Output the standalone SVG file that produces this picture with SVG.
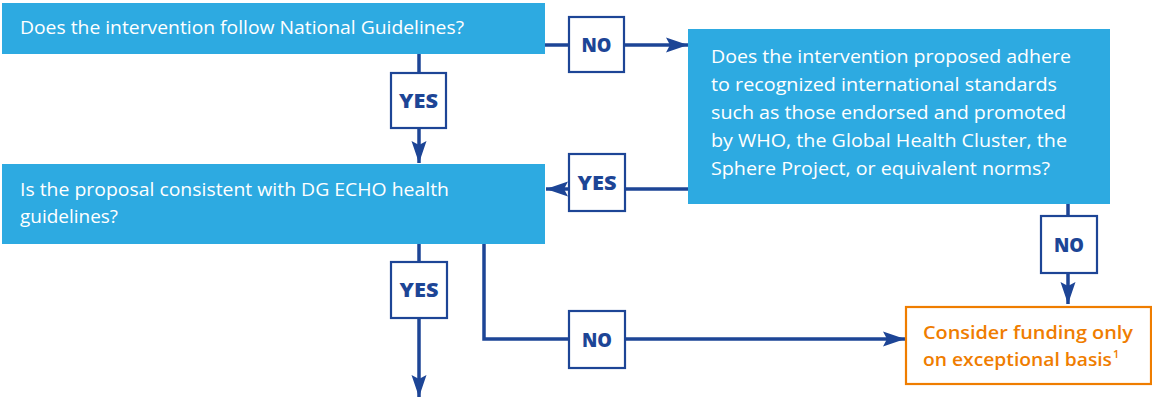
<svg xmlns="http://www.w3.org/2000/svg" width="1152" height="399" viewBox="0 0 1152 399">
  <defs>
    <marker id="arrow" markerUnits="userSpaceOnUse" markerWidth="24" markerHeight="16" refX="22" refY="8" orient="auto">
      <path d="M0,0.5 L22,8 L0,15.5 L4,8 Z" fill="#1D4596"/>
    </marker>
    <style>
      .q { fill: #2DAAE1; }
      .qt { fill: #FFFFFF; font-family: "Open Sans", "DejaVu Sans", sans-serif; font-size: 18px; }
      .lbl { fill: #FFFFFF; stroke: #1D4596; stroke-width: 2.2; }
      .lt { fill: #1D4596; font-family: "Open Sans", "DejaVu Sans", sans-serif; font-weight: 800; font-size: 20px; text-anchor: middle; }
      .conn { fill: none; stroke: #1D4596; stroke-width: 3.5; marker-end: url(#arrow); }
      .res { fill: #FFFFFF; stroke: #EF7D00; stroke-width: 2.2; }
      .rt { fill: #EF7D00; font-family: "Open Sans", "DejaVu Sans", sans-serif; font-weight: 600; font-size: 18.5px; }
    </style>
  </defs>

  <!-- connectors -->
  <g id="connectors">
    <path class="conn" d="M545,45 H688"/>
    <path class="conn" d="M419,54 V163"/>
    <path class="conn" d="M688,189 H546"/>
    <path class="conn" d="M419,244 V397"/>
    <path class="conn" d="M484,244 V339 H905"/>
    <path class="conn" d="M1068,204 V304"/>
  </g>

  <!-- question nodes -->
  <g id="q-national">
    <rect class="q" x="2" y="3" width="543" height="51"/>
    <text class="qt" x="20" y="34" textLength="444" lengthAdjust="spacingAndGlyphs">Does the intervention follow National Guidelines?</text>
  </g>

  <g id="q-echo">
    <rect class="q" x="2" y="164" width="543" height="80"/>
    <text class="qt" x="20" y="196" textLength="429" lengthAdjust="spacingAndGlyphs">Is the proposal consistent with DG ECHO health</text>
    <text class="qt" x="20" y="223" textLength="98" lengthAdjust="spacingAndGlyphs">guidelines?</text>
  </g>

  <g id="q-international">
    <rect class="q" x="688" y="29" width="422" height="175"/>
    <text class="qt" x="711" y="63" textLength="360" lengthAdjust="spacingAndGlyphs">Does the intervention proposed adhere</text>
    <text class="qt" x="711" y="91" textLength="346" lengthAdjust="spacingAndGlyphs">to recognized international standards</text>
    <text class="qt" x="711" y="119" textLength="355" lengthAdjust="spacingAndGlyphs">such as those endorsed and promoted</text>
    <text class="qt" x="711" y="147" textLength="356" lengthAdjust="spacingAndGlyphs">by WHO, the Global Health Cluster, the</text>
    <text class="qt" x="711" y="175" textLength="339" lengthAdjust="spacingAndGlyphs">Sphere Project, or equivalent norms?</text>
  </g>

  <!-- result node -->
  <g id="r-exceptional">
    <rect class="res" x="906" y="307" width="245" height="77"/>
    <text class="rt" x="923" y="339" textLength="210" lengthAdjust="spacingAndGlyphs">Consider funding only</text>
    <text class="rt" x="923" y="366"><tspan textLength="189" lengthAdjust="spacingAndGlyphs">on exceptional basis</tspan><tspan font-size="11" dx="1" dy="-8">1</tspan></text>
  </g>

  <!-- branch labels -->
  <g id="l-no-1">
    <rect class="lbl" x="569" y="17" width="55" height="55"/>
    <text class="lt" x="596.5" y="52" textLength="30" lengthAdjust="spacingAndGlyphs">NO</text>
  </g>
  <g id="l-yes-1">
    <rect class="lbl" x="391" y="73" width="55" height="55"/>
    <text class="lt" x="418.5" y="108" textLength="39" lengthAdjust="spacingAndGlyphs">YES</text>
  </g>
  <g id="l-yes-2">
    <rect class="lbl" x="569" y="154" width="56" height="57"/>
    <text class="lt" x="597" y="190" textLength="39" lengthAdjust="spacingAndGlyphs">YES</text>
  </g>
  <g id="l-yes-3">
    <rect class="lbl" x="391" y="262" width="56" height="56"/>
    <text class="lt" x="419" y="297" textLength="39" lengthAdjust="spacingAndGlyphs">YES</text>
  </g>
  <g id="l-no-2">
    <rect class="lbl" x="569" y="311" width="56" height="57"/>
    <text class="lt" x="597" y="347" textLength="30" lengthAdjust="spacingAndGlyphs">NO</text>
  </g>
  <g id="l-no-3">
    <rect class="lbl" x="1041" y="216" width="56" height="57"/>
    <text class="lt" x="1069" y="252" textLength="30" lengthAdjust="spacingAndGlyphs">NO</text>
  </g>
</svg>
